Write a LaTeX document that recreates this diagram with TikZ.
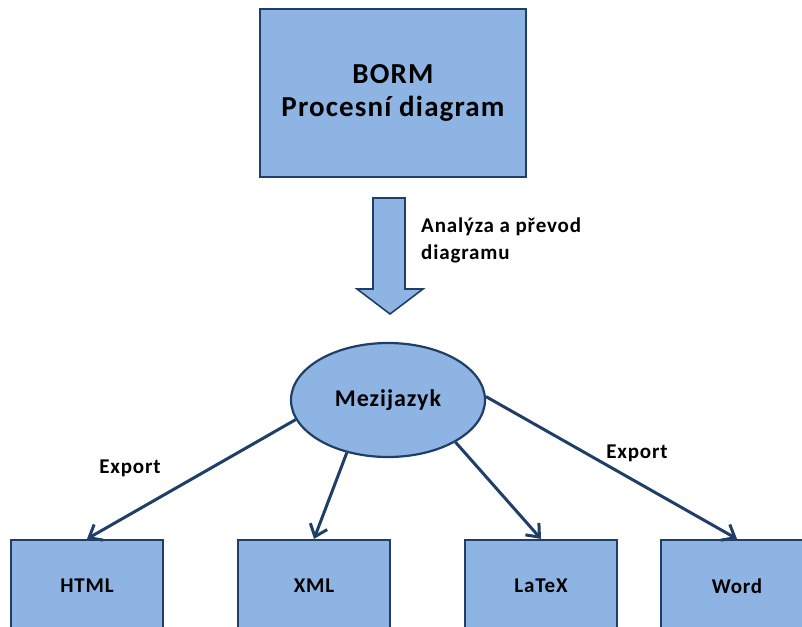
\documentclass[tikz,border=0pt]{standalone}
\usepackage{fontspec}
\setmainfont[LetterSpace=4]{Carlito}
\usetikzlibrary{shapes.geometric,arrows.meta}
\definecolor{fillb}{HTML}{8EB4E3}
\definecolor{edgeb}{HTML}{1F3F66}
\begin{document}
\begin{tikzpicture}[x=1pt,y=-1pt,
  boxstyle/.style={draw=edgeb,fill=fillb,line width=2.2pt,inner sep=0pt},
  botbox/.style={boxstyle,minimum width=152pt,minimum height=92pt,font=\fontsize{21}{25}\selectfont\bfseries},
  arr/.style={draw=edgeb,line width=3pt,-{Straight Barb[length=11pt,width=18pt,line width=3pt]}},
  lbl/.style={font=\fontsize{21}{25}\selectfont\bfseries,inner sep=0pt}]
\useasboundingbox (0,0) rectangle (802,626);
\clip (0,0) rectangle (802,626);
\node[boxstyle,minimum width=266pt,minimum height=168pt,align=center,font=\fontsize{29}{33}\selectfont\bfseries] (top) at (393,93) {BORM\\Procesní diagram};
\draw[draw=edgeb,fill=fillb,line width=1.6pt,line join=miter]
  (373,198) -- (405,198) -- (405,289) -- (423,289) -- (390,314) -- (357,289) -- (373,289) -- cycle;
\node[lbl,align=left,anchor=west,font=\fontsize{21}{27}\selectfont\bfseries] (conv) at (421,240) {Analýza a převod\\diagramu};
\node[ellipse,boxstyle,minimum width=194pt,minimum height=114pt,font=\fontsize{24}{28}\selectfont\bfseries] (ell) at (388,400) {Mezijazyk};
\node[botbox] (html) at (87,586) {HTML};
\node[botbox] (xml) at (314,586) {XML};
\node[botbox] (latex) at (541,586) {LaTeX};
\node[botbox] (word) at (737,586) {Word};
\draw[arr] (ell.192) -- (html.north);
\draw[arr] (ell.232) -- (xml.north);
\draw[arr] (ell.328) -- (latex.north);
\draw[arr] (ell.2) -- (word.north);
\node[lbl] (exp1) at (130,468) {Export};
\node[lbl] (exp2) at (637,453) {Export};
\end{tikzpicture}
\end{document}
